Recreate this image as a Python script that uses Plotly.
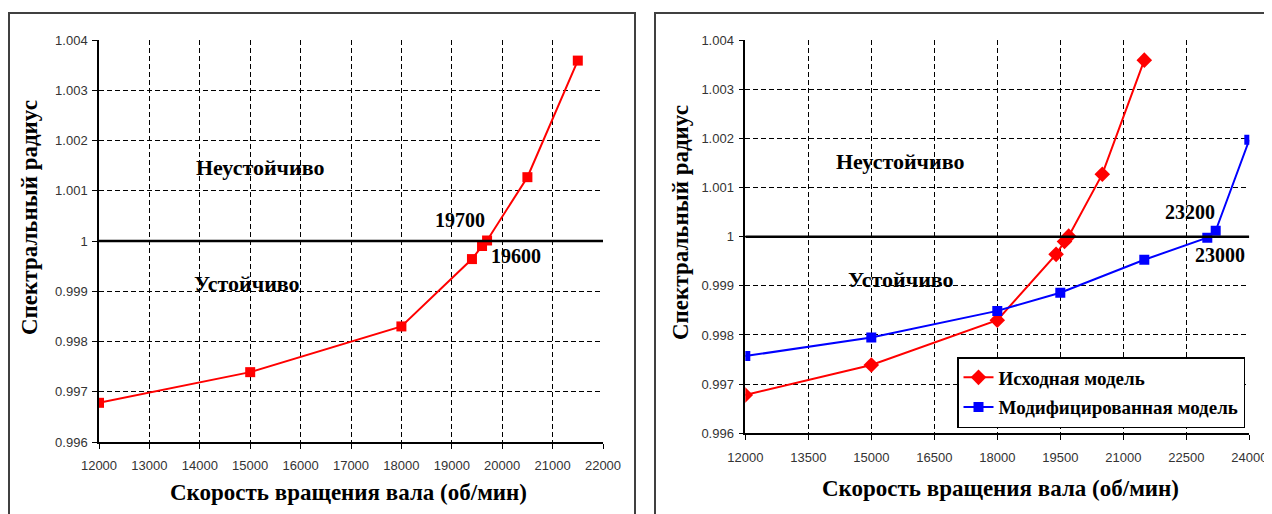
import plotly.graph_objects as go

# The page body has an 8px margin, so the figure is drawn from page (8, 8)
OFF = 8
W, H = 1272 - OFF, 514 - OFF

# ---- data ----
orig_speed = [12000, 15000, 18000, 19400, 19600, 19700, 20500, 21500]
orig_rho = [0.99678, 0.99739, 0.99830, 0.99964, 0.99990, 1.00001, 1.00127, 1.00359]

mod_speed = [12000, 15000, 18000, 19500, 21500, 23000, 23200, 24000]
mod_rho = [0.99757, 0.99795, 0.99849, 0.99886, 0.99953, 0.99998, 1.00012, 1.00197]

y_tickvals = [0.996, 0.997, 0.998, 0.999, 1.0, 1.001, 1.002, 1.003, 1.004]
y_ticktext = ["0.996", "0.997", "0.998", "0.999", "1", "1.001", "1.002", "1.003", "1.004"]
x1_tickvals = [12000, 13000, 14000, 15000, 16000, 17000, 18000, 19000, 20000, 21000, 22000]
x2_tickvals = [12000, 13500, 15000, 16500, 18000, 19500, 21000, 22500, 24000]

legend_names = ["Исходная модель", "Модифицированная модель"]
x_title = "Скорость вращения вала (об/мин)"
y_title = "Спектральный радиус"
unstable = "Неустойчиво"
stable = "Устойчиво"

RED = "#FF0000"
BLUE = "#0000FF"
SERIF = "Liberation Serif, Times New Roman, serif"
SANS = "Liberation Sans, Arial, sans-serif"


def px_x(p):
    return (p - OFF) / W


def px_y(p):
    return 1 - (p - OFF) / H


fig = go.Figure()

fig.add_trace(go.Scatter(x=orig_speed, y=orig_rho, mode="lines+markers",
                         line=dict(color=RED, width=2),
                         marker=dict(symbol="square", size=10, color=RED),
                         showlegend=False, xaxis="x", yaxis="y"))

fig.add_trace(go.Scatter(x=orig_speed, y=orig_rho, mode="lines+markers",
                         name="<b>%s</b>" % legend_names[0], legendgroup="a",
                         line=dict(color=RED, width=2),
                         marker=dict(symbol="diamond", size=12, color=RED),
                         xaxis="x2", yaxis="y2"))
fig.add_trace(go.Scatter(x=mod_speed, y=mod_rho, mode="lines+markers",
                         name="<b>%s</b>" % legend_names[1], legendgroup="b",
                         line=dict(color=BLUE, width=2),
                         marker=dict(symbol="square", size=10, color=BLUE),
                         xaxis="x2", yaxis="y2"))

axis_common = dict(showline=True, linecolor="black", linewidth=1.5,
                   showgrid=True, gridcolor="black", gridwidth=1, griddash="5px,3px",
                   ticks="outside", ticklen=5, tickcolor="black", tickwidth=1.2,
                   zeroline=False, automargin=False,
                   tickfont=dict(family=SANS, size=13, color="#333333"))

fig.update_layout(
    width=W, height=H,
    margin=dict(l=0, r=0, t=0, b=0),
    paper_bgcolor="white", plot_bgcolor="white",
    xaxis=dict(domain=[px_x(99), px_x(603)], range=[12000, 22000],
               tickvals=x1_tickvals, ticktext=[str(v) for v in x1_tickvals],
               ticklabelstandoff=6, anchor="y", **axis_common),
    yaxis=dict(domain=[px_y(442), px_y(40)], range=[0.996, 1.004],
               tickvals=y_tickvals, ticktext=y_ticktext, ticklabelstandoff=2,
               anchor="x", **axis_common),
    xaxis2=dict(domain=[px_x(745.3), px_x(1249.3)], range=[12000, 24000],
                tickvals=x2_tickvals, ticktext=[str(v) for v in x2_tickvals],
                ticklabelstandoff=6, anchor="y2", **axis_common),
    yaxis2=dict(domain=[px_y(433.3), px_y(40)], range=[0.996, 1.004],
                tickvals=y_tickvals, ticktext=y_ticktext, ticklabelstandoff=2,
                anchor="x2", **axis_common),
    legend=dict(x=px_x(957), y=px_y(357), xanchor="left", yanchor="top",
                bgcolor="white", bordercolor="black", borderwidth=1.5,
                font=dict(family=SERIF, size=19, color="black"),
                traceorder="grouped", tracegroupgap=2,
                itemwidth=30),
)

shapes = [
    # panel frames
    dict(type="rect", xref="paper", yref="paper", x0=px_x(9), x1=px_x(635),
         y0=-0.02, y1=px_y(13), line=dict(color="#404040", width=2)),
    dict(type="rect", xref="paper", yref="paper", x0=px_x(655), x1=1.02,
         y0=-0.02, y1=px_y(13), line=dict(color="#404040", width=2)),
    # stability boundary
    dict(type="line", xref="x", yref="y", x0=12000, x1=22000, y0=1.0, y1=1.0,
         line=dict(color="black", width=2.5)),
    dict(type="line", xref="x2", yref="y2", x0=12000, x1=24000, y0=1.0, y1=1.0,
         line=dict(color="black", width=2.5)),
]
fig.update_layout(shapes=shapes)


def bold_serif(s):
    return dict(family=SERIF, size=s, color="black")


def label(x, y, xref, yref, text, size, angle=0):
    return dict(x=x, y=y, xref=xref, yref=yref, text="<b>%s</b>" % text,
                showarrow=False, xanchor="center", yanchor="middle",
                textangle=angle, font=bold_serif(size))


ann = [
    # left panel
    label(15194, 1.00147, "x", "y", unstable, 22),
    label(14937, 0.99916, "x", "y", stable, 22),
    label(19163, 1.00042, "x", "y", "19700", 20),
    label(20274, 0.99970, "x", "y", "19600", 20),
    # right panel
    label(15686, 1.00152, "x2", "y2", unstable, 22),
    label(15710, 0.99912, "x2", "y2", stable, 22),
    label(22577, 1.00050, "x2", "y2", "23200", 20),
    label(23292, 0.99963, "x2", "y2", "23000", 20),
    # axis titles
    label(px_x(348), px_y(492), "paper", "paper", x_title, 23),
    label(px_x(1000), px_y(488), "paper", "paper", x_title, 23),
    label(px_x(29), px_y(218), "paper", "paper", y_title, 23, -90),
    label(px_x(680), px_y(222), "paper", "paper", y_title, 23, -90),
]
fig.update_layout(annotations=ann)

fig.write_html("out.html")
